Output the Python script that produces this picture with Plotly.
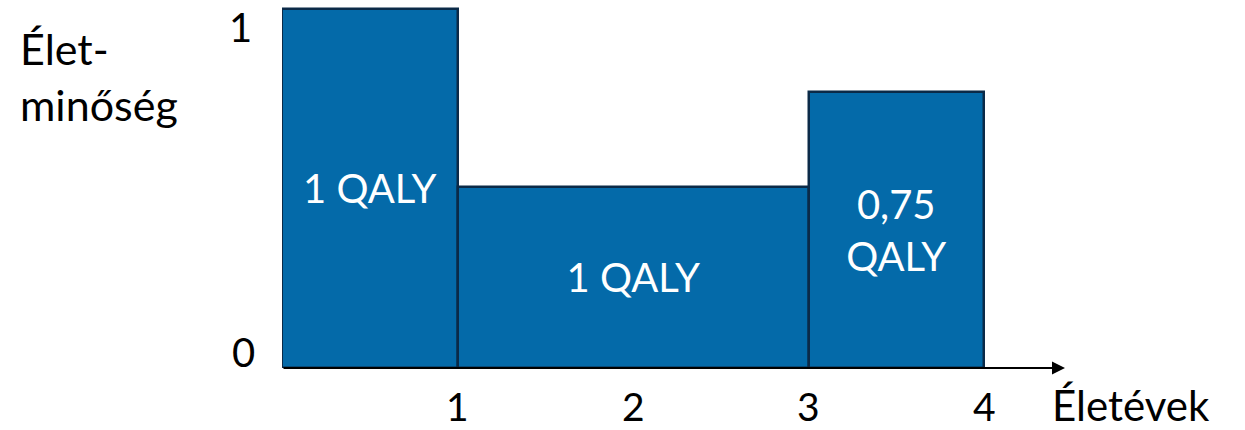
import plotly.graph_objects as go

# Data
starts = [0, 1, 3]
widths = [1, 2, 1]
quality = [1.0, 0.505, 0.77]
bar_labels = ["1 QALY", "1 QALY", "0,75<br>QALY"]
x_ticks = [1, 2, 3, 4]
x_tick_labels = ["1", "2", "3", "4"]
y_tick_labels = {0: "0", 1: "1"}
x_title = "Életévek"
y_title = "Élet-<br>minőség"

FONT = "Lato"
BAR_COLOR = "#046aa9"
EDGE = "#0b2a48"

centers = [s + w / 2 for s, w in zip(starts, widths)]

fig = go.Figure()
fig.add_trace(go.Bar(
    x=centers, y=quality, width=widths,
    marker=dict(color=BAR_COLOR, line=dict(color=EDGE, width=2.5)),
    text=bar_labels, textposition="inside", insidetextanchor="middle",
    textangle=0, constraintext="none",
    textfont=dict(family=FONT, size=40, color="white"),
    hoverinfo="skip",
))

X_MAX = 4.46
L, R, T, B = 282, 180, 2, 62
W, H = 1245, 430

fig.update_layout(
    width=W, height=H,
    margin=dict(l=L, r=R, t=T, b=B, autoexpand=False),
    plot_bgcolor="white", paper_bgcolor="white",
    showlegend=False,
    font=dict(family=FONT, color="black", size=40),
    xaxis=dict(range=[0, X_MAX], showgrid=False, zeroline=False, showline=False,
               automargin=False, showticklabels=False, ticks=""),
    yaxis=dict(range=[0, 1.02], showgrid=False, zeroline=False, showline=False,
               automargin=False, showticklabels=False, ticks=""),
    bargap=0,
)

# axis arrow
fig.add_annotation(x=X_MAX, y=0, ax=0, ay=0, xref="x", yref="y", axref="x", ayref="y",
                   showarrow=True, arrowhead=2, arrowsize=1.3, arrowwidth=2,
                   arrowcolor="black", text="", standoff=0)

plot_h = H - T - B
plot_w = W - L - R
def px_to_paper_y(py):
    return (H - B - py) / plot_h
def px_to_paper_x(px):
    return (px - L) / plot_w

# x tick labels at data positions
for xv, lab in zip(x_ticks, x_tick_labels):
    fig.add_annotation(x=xv, y=px_to_paper_y(406), xref="x", yref="paper",
                       text=lab, showarrow=False, xanchor="center", yanchor="middle",
                       font=dict(family=FONT, size=39, color="black"))

# y tick labels
fig.add_annotation(x=px_to_paper_x(240), y=px_to_paper_y(27), xref="paper", yref="paper",
                   text=y_tick_labels[1], showarrow=False, xanchor="center", yanchor="middle",
                   font=dict(family=FONT, size=40, color="black"))
fig.add_annotation(x=px_to_paper_x(243), y=px_to_paper_y(352), xref="paper", yref="paper",
                   text=y_tick_labels[0], showarrow=False, xanchor="center", yanchor="middle",
                   font=dict(family=FONT, size=40, color="black"))

# axis titles
fig.add_annotation(x=px_to_paper_x(1050), y=px_to_paper_y(405), xref="paper", yref="paper",
                   text=x_title, showarrow=False, xanchor="left", yanchor="middle",
                   font=dict(family=FONT, size=42, color="black"))
fig.add_annotation(x=px_to_paper_x(18), y=px_to_paper_y(76), xref="paper", yref="paper",
                   text=y_title, showarrow=False, xanchor="left", yanchor="middle", align="left",
                   font=dict(family=FONT, size=43, color="black"))

fig.write_html("out.html")
